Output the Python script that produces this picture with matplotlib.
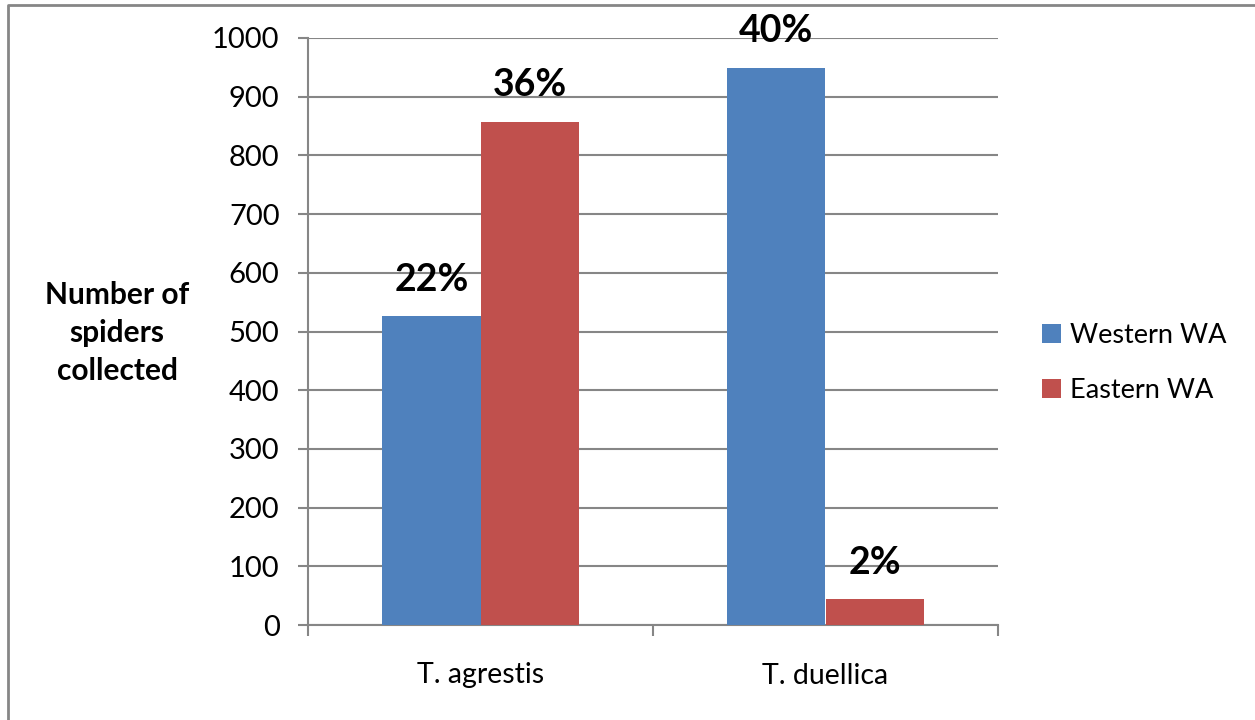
import matplotlib.pyplot as plt
import numpy as np

# Spider counts by species and region
species = ['T. agrestis', 'T. duellica']
western_wa = [526, 949]
eastern_wa = [857, 44]
western_pct = ['22%', '40%']
eastern_pct = ['36%', '2%']

plt.rcParams['font.family'] = ['Lato', 'DejaVu Sans']

fig = plt.figure(figsize=(12.55, 7.2), dpi=100)
ax = fig.add_axes([308 / 1255, 1 - 625 / 720, 690 / 1255, 587 / 720])

x = np.arange(len(species))
w = 0.285
grid_col = '#868686'

b1 = ax.bar(x - w / 2, western_wa, w, color='#4F81BD', label='Western WA', zorder=3)
b2 = ax.bar(x + w / 2, eastern_wa, w, color='#C0504D', label='Eastern WA', zorder=3)

for bars, labels in ((b1, western_pct), (b2, eastern_pct)):
    for bar, lab in zip(bars, labels):
        ax.annotate(lab, (bar.get_x() + bar.get_width() / 2, bar.get_height()),
                    xytext=(0, 14), textcoords='offset points', ha='center',
                    va='bottom', fontsize=27, fontweight='bold', zorder=4)

ax.set_xlim(-0.5, 1.5)
ax.set_ylim(0, 1000)
ax.set_yticks(range(0, 1001, 100))
ax.yaxis.grid(True, color=grid_col, linewidth=1.5, zorder=0)

# category ticks sit on group boundaries, labels at group centres
ax.set_xticks([-0.5, 0.5, 1.5])
ax.set_xticklabels([])
ax.set_xticks(x, minor=True)
ax.set_xticklabels(species, minor=True, fontsize=20.5)
ax.tick_params(axis='x', which='major', length=8, width=1.5, color=grid_col, direction='out')
ax.tick_params(axis='x', which='minor', length=0, pad=27)
ax.tick_params(axis='y', length=7.5, width=1.5, color=grid_col, labelsize=21, pad=13)

for s in ('top', 'right'):
    ax.spines[s].set_visible(False)
for s in ('left', 'bottom'):
    ax.spines[s].set_color(grid_col)
    ax.spines[s].set_linewidth(1.5)

fig.text(117 / 1255, 1 - 333 / 720, 'Number of\nspiders\ncollected', ha='center',
         va='center', fontsize=21.5, fontweight='bold', linespacing=1.42)

ax.legend(loc='center left', bbox_to_anchor=(1018 / 1255, 1 - 363 / 720),
          bbox_transform=fig.transFigure, frameon=False, fontsize=19.5,
          handlelength=0.68, handleheight=0.68, handletextpad=0.35, labelspacing=1.1)

# outer chart border (top and left edges)
fig.add_artist(plt.Line2D([7.5 / 1255, 7.5 / 1255, 1], [0, 1 - 5 / 720, 1 - 5 / 720],
                          transform=fig.transFigure, color=grid_col, linewidth=2))

fig.savefig('out.png', dpi=100)
